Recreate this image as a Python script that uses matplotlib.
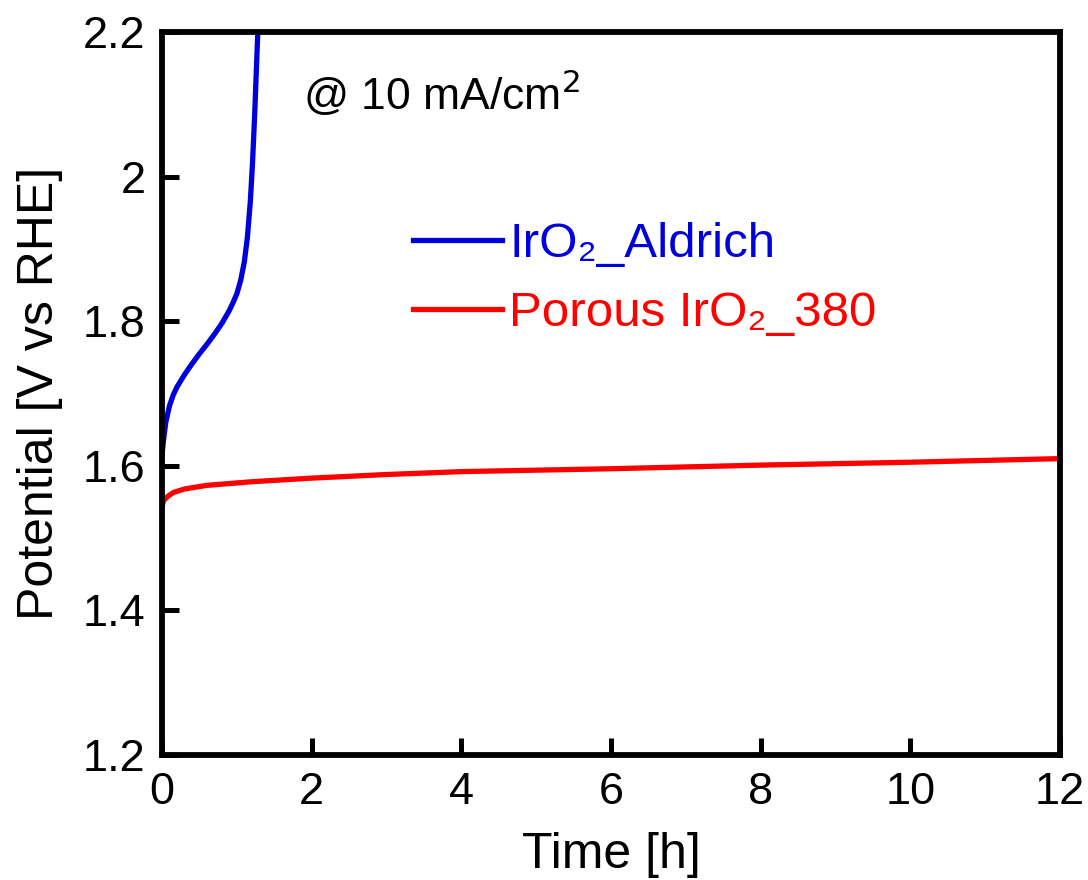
import matplotlib
matplotlib.use("Agg")
import matplotlib.pyplot as plt

plt.rcParams['font.family'] = ['Liberation Sans', 'DejaVu Sans']

# Data
t_aldrich = [0.0, 0.02, 0.05, 0.1, 0.15, 0.2, 0.3, 0.4, 0.5, 0.6, 0.7, 0.8, 0.9, 0.95, 1.0,
             1.05, 1.1, 1.14, 1.18, 1.21, 1.24, 1.26, 1.28]
v_aldrich = [1.615, 1.635, 1.66, 1.683, 1.698, 1.709, 1.726, 1.741, 1.755, 1.768, 1.782, 1.797, 1.815,
             1.826, 1.838, 1.856, 1.882, 1.915, 1.965, 2.02, 2.09, 2.145, 2.2]

t_porous = [0.0, 0.01, 0.03, 0.08, 0.15, 0.3, 0.6, 1.2, 2, 3, 4, 6, 8, 10, 12]
v_porous = [1.54, 1.548, 1.553, 1.558, 1.563, 1.568, 1.573, 1.578, 1.583, 1.588, 1.592, 1.596, 1.601, 1.605, 1.61]

labels = ['IrO\u2082_Aldrich', 'Porous IrO\u2082_380']
colors = ['#0000dd', '#ff0000']
xticks = [0, 2, 4, 6, 8, 10, 12]
yticks = [1.2, 1.4, 1.6, 1.8, 2.0, 2.2]
yticklabels = ['1.2', '1.4', '1.6', '1.8', '2', '2.2']

fig = plt.figure(figsize=(10.88, 8.8), dpi=100)
ax = fig.add_axes([0.1489, 0.142, 0.8254, 0.8216])

ax.plot(t_aldrich, v_aldrich, color=colors[0], lw=3.8, label=labels[0],
        solid_joinstyle='round')
ax.plot(t_porous, v_porous, color=colors[1], lw=3.8, label=labels[1],
        solid_joinstyle='round')

ax.set_xlim(0, 12)
ax.set_ylim(1.2, 2.2)
ax.set_xticks(xticks)
ax.set_xticklabels([str(x) for x in xticks])
ax.set_yticks(yticks)
ax.set_yticklabels(yticklabels)

for s in ax.spines.values():
    s.set_linewidth(4.2)
ax.tick_params(direction='in', length=12, width=3.6, labelsize=32.5, pad=12,
               top=False, right=False)

ax.set_xlabel('Time [h]', fontsize=36, labelpad=14)
ax.set_ylabel('Potential [V vs RHE]', fontsize=36, labelpad=14)

ax.text(0.157, 0.915, '@ 10 mA/cm$^2$', transform=ax.transAxes, fontsize=32,
        va='center', ha='left')

leg = ax.legend(loc='upper left', bbox_to_anchor=(0.2795, 0.737), frameon=False,
                fontsize=35.5, handlelength=1.8, handletextpad=0.15,
                labelspacing=0.48, borderaxespad=0, borderpad=0,
                labelcolor='linecolor')

fig.savefig('out.png', dpi=100)
